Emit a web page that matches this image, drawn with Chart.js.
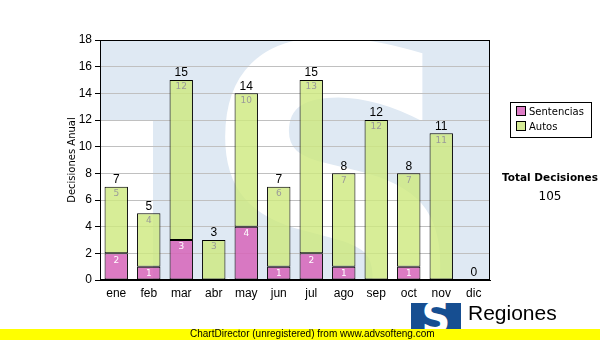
<!DOCTYPE html>
<html>
<head>
<meta charset="utf-8">
<script src="https://cdn.jsdelivr.net/npm/chart.js@4"></script>
<style>
  body { margin: 0; background: #fff; }
  #wrap { position: relative; width: 600px; height: 340px; overflow: hidden; font-family: "DejaVu Sans", sans-serif; }
  #grafico { position: absolute; left: 0; top: 0; }
  .leyenda { position: absolute; left: 510px; top: 102px; width: 80px; height: 34px; border: 1px solid #000; background: #fff; font-size: 10px; }
  .leyenda div { position: absolute; left: 5px; white-space: nowrap; }
  .leyenda span { display: inline-block; width: 8px; height: 8px; border: 1px solid #000; margin-right: 3px; vertical-align: -1px; }
  .total { position: absolute; left: 495px; width: 110px; text-align: center; }
  .pie { position: absolute; left: 0; top: 329px; width: 600px; height: 11px; background: #ffff00; font: 10px "Liberation Sans", sans-serif; }
  .pie div { position: absolute; left: 190px; top: -1px; }
  .logo { position: absolute; left: 411px; top: 303px; width: 50px; height: 30px; background: #164e91; color: #fff; font: bold 40px "DejaVu Sans", sans-serif; text-align: center; line-height: 30px; overflow: hidden; }
  .regiones { position: absolute; left: 468px; top: 301px; font: 21px "Liberation Sans", sans-serif; color: #000; }
</style>
</head>
<body>
<div id="wrap">
  <canvas id="grafico" width="600" height="340"></canvas>
  <div class="leyenda">
    <div style="top:3px"><span style="background:#dd7cc5"></span>Sentencias</div>
    <div style="top:18px"><span style="background:#d6ec96"></span>Autos</div>
  </div>
  <div class="total" style="top:171px; font-weight:bold; font-size:10.5px;">Total Decisiones</div>
  <div class="total" style="top:189px; font-size:12px;">105</div>
  <div class="logo">S</div>
  <div class="regiones">Regiones</div>
  <div class="pie"><div>ChartDirector (unregistered) from www.advsofteng.com</div></div>
</div>
<script>
// Datos
const meses = ["ene", "feb", "mar", "abr", "may", "jun", "jul", "ago", "sep", "oct", "nov", "dic"];
const sentencias = [2, 1, 3, 0, 4, 1, 2, 1, 0, 1, 0, 0];
const autos = [5, 4, 12, 3, 10, 6, 13, 7, 12, 7, 11, 0];
const totales = meses.map((m, i) => sentencias[i] + autos[i]);

// Fondo con la marca de agua "S"
const fondo = {
  id: "fondo",
  beforeDraw(chart) {
    const { ctx, chartArea: a } = chart;
    ctx.save();
    ctx.beginPath();
    ctx.rect(a.left, a.top, a.right - a.left, a.bottom - a.top);
    ctx.clip();
    ctx.fillStyle = "#dfe9f3";
    ctx.fillRect(a.left, a.top, a.right - a.left, a.bottom - a.top);
    ctx.fillStyle = "#fff";
    ctx.fillRect(a.left, 120, 53, a.bottom - 120);
    ctx.translate(333, 364);
    ctx.scale(0.85, 1);
    ctx.font = "bold 440px 'DejaVu Sans'";
    ctx.textAlign = "center";
    ctx.textBaseline = "alphabetic";
    ctx.fillText("S", 0, 0);
    ctx.restore();
  },
};

// Etiquetas de valores y borde del area
const etiquetas = {
  id: "etiquetas",
  afterDatasetsDraw(chart) {
    const { ctx, chartArea: a } = chart;
    ctx.save();
    ctx.textAlign = "center";
    ctx.textBaseline = "middle";
    const colores = ["#ffffff", "#9a9a9a"];
    chart.data.datasets.forEach((ds, d) => {
      chart.getDatasetMeta(d).data.forEach((bar, i) => {
        if (!ds.data[i]) return;
        ctx.font = "9px 'DejaVu Sans'";
        ctx.fillStyle = colores[d];
        ctx.fillText(ds.data[i], bar.x, bar.y + 7);
      });
    });
    const arriba = chart.getDatasetMeta(1).data;
    ctx.font = "12px 'Liberation Sans'";
    ctx.fillStyle = "#000";
    arriba.forEach((bar, i) => {
      ctx.fillText(totales[i], bar.x, bar.y - 7);
    });
    ctx.strokeStyle = "#000";
    ctx.lineWidth = 1;
    ctx.strokeRect(a.left + 0.5, a.top + 0.5, a.right - a.left - 1, a.bottom - a.top - 1);
    ctx.restore();
  },
};

new Chart(document.getElementById("grafico"), {
  type: "bar",
  data: {
    labels: meses,
    datasets: [
      {
        label: "Sentencias",
        data: sentencias,
        backgroundColor: "rgba(215,100,185,0.85)",
        borderColor: "#000",
        borderWidth: 1,
        borderSkipped: false,
      },
      {
        label: "Autos",
        data: autos,
        backgroundColor: "rgba(205,233,125,0.8)",
        borderColor: "#000",
        borderWidth: 1,
        borderSkipped: false,
      },
    ],
  },
  options: {
    responsive: false,
    animation: false,
    layout: { padding: { left: 60, right: 110, top: 40, bottom: 30 } },
    plugins: { legend: { display: false }, tooltip: { enabled: false } },
    scales: {
      x: {
        stacked: true,
        categoryPercentage: 1,
        barPercentage: 0.71,
        grid: { drawOnChartArea: false, drawTicks: false },
        border: { display: true, color: "#000" },
        ticks: { color: "#000", font: { family: "Liberation Sans", size: 12 }, padding: 6 },
        afterFit: (s) => { s.height = 30; },
      },
      y: {
        stacked: true,
        min: 0,
        max: 18,
        ticks: { stepSize: 2, color: "#000", font: { family: "Liberation Sans", size: 12 }, padding: 3 },
        grid: { color: "#c0c0c0", tickColor: "#000", tickLength: 5 },
        border: { color: "#000" },
        title: { display: true, text: "Decisiones Anual", color: "#000", font: { family: "DejaVu Sans", size: 10 }, padding: { top: 6, bottom: 0 } },
        afterFit: (s) => { s.width = 40; },
      },
    },
  },
  plugins: [fondo, etiquetas],
});
</script>
</body>
</html>
